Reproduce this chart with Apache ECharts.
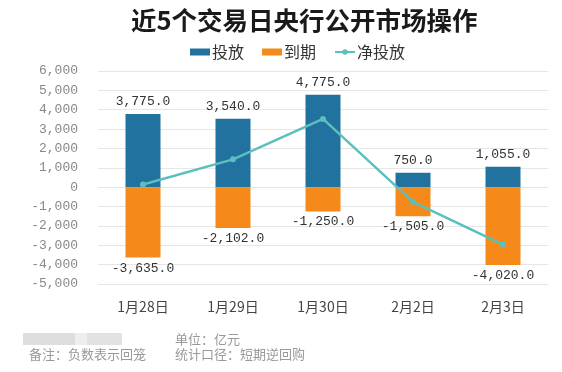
<!DOCTYPE html>
<html><head><meta charset="utf-8">
<script src="https://cdn.jsdelivr.net/npm/echarts@6/dist/echarts.min.js"></script>
<style>html,body{margin:0;padding:0;background:#fff}#c{width:562px;height:372px}</style>
</head><body><div id="c"></div>
<script>
const categories = ['1月28日','1月29日','1月30日','2月2日','2月3日'];
const injection = [3775, 3540, 4775, 750, 1055];
const maturity = [-3635, -2102, -1250, -1505, -4020];
const netInjection = [140, 1438, 3525, -755, -2965];

const fmt = v => Number(v).toLocaleString('en-US',{minimumFractionDigits:1,maximumFractionDigits:1});
const fmtAxis = v => Number(v).toLocaleString('en-US');
const chart = echarts.init(document.getElementById('c'));
chart.setOption({
  animation:false,
  title:{text:'近5个交易日央行公开市场操作',left:126,top:3,
    textStyle:{fontFamily:'Noto Sans CJK SC',fontSize:25.5,fontWeight:'bold',color:'#1a1a1a'}},
  legend:{top:39,left:185,itemWidth:20,itemHeight:7,itemGap:18,
    textStyle:{fontFamily:'Noto Sans CJK SC',fontSize:16,color:'#333',padding:[0,0,0,-3]},
    data:[{name:'投放',icon:'rect'},{name:'到期',icon:'rect'},{name:'净投放'}]},
  grid:{left:98,right:14,top:71,bottom:88},
  xAxis:{type:'category',data:categories,axisLine:{show:false},axisTick:{show:false},
    axisLabel:{fontFamily:'Noto Sans CJK SC',fontSize:14,color:'#444',margin:16}},
  yAxis:{type:'value',min:-5000,max:6000,interval:1000,
    axisLabel:{formatter:fmtAxis,fontFamily:'Liberation Mono',fontSize:13,color:'#888',margin:20},
    splitLine:{lineStyle:{color:'#e6e6e6'}}},
  series:[
    {name:'投放',type:'bar',stack:'a',data:injection,barWidth:35,itemStyle:{color:'#21729f'},
     label:{show:true,position:'top',formatter:p=>fmt(p.value),fontFamily:'Liberation Mono',fontSize:13,color:'#333',distance:6}},
    {name:'到期',type:'bar',stack:'a',data:maturity,barWidth:35,itemStyle:{color:'#f58a1a'},
     label:{show:true,position:'bottom',formatter:p=>fmt(p.value),fontFamily:'Liberation Mono',fontSize:13,color:'#333',distance:4}},
    {name:'净投放',type:'line',data:netInjection,symbol:'circle',symbolSize:6,
     lineStyle:{color:'#5bbfbd',width:2.5},itemStyle:{color:'#5bbfbd'},z:5}
  ],
  graphic:[
    {type:'rect',left:23,top:333,shape:{width:52,height:12},style:{fill:'#dedede'}},
    {type:'rect',left:75,top:333,shape:{width:12,height:12},style:{fill:'#eeeeee'}},
    {type:'rect',left:87,top:333,shape:{width:35,height:12},style:{fill:'#e2e2e2'}},
    {type:'text',left:175,top:333,style:{text:'单位：亿元',font:'13px "Noto Sans CJK SC"',fill:'#999'}},
    {type:'text',left:29,top:348,style:{text:'备注：负数表示回笼',font:'13px "Noto Sans CJK SC"',fill:'#999'}},
    {type:'text',left:175,top:348,style:{text:'统计口径：短期逆回购',font:'13px "Noto Sans CJK SC"',fill:'#999'}}
  ]
});
</script></body></html>
